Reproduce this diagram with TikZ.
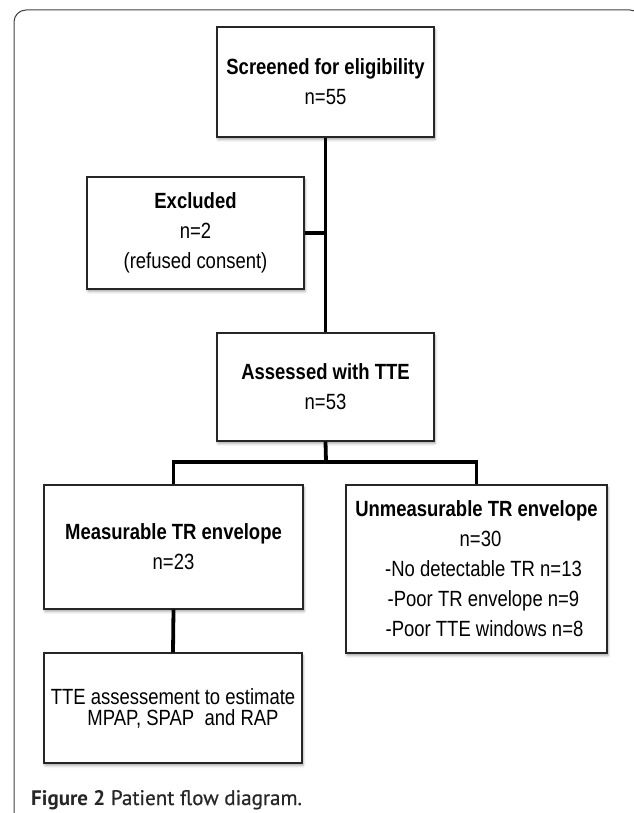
\documentclass[tikz,border=0pt]{standalone}
\usepackage{fontspec}
\setmainfont{Liberation Sans}[FakeStretch=0.84]
\newfontfamily\capfont{PT Sans}
\usetikzlibrary{shadows.blur}
\tikzset{
  box/.style={draw=black!85, line width=1.3pt, fill=white, align=center, inner sep=0pt,
    font=\fontsize{22}{30}\selectfont,
    blur shadow={shadow xshift=1pt, shadow yshift=-2.5pt, shadow blur radius=2.5pt, shadow opacity=35}},
  conn/.style={line width=3.8pt, black},
  frame/.style={draw=black!75, line width=1pt, rounded corners=12pt}
}
\begin{document}
\begin{tikzpicture}[x=1pt,y=-1pt]
\useasboundingbox (0,0) rectangle (633,813);
\draw[frame] (14,10) rectangle (642,824);

\node[box, minimum width=217pt, minimum height=110pt] (scr) at (325.5,82)
  {\textbf{Screened for eligibility}\\n=55};
\node[box, minimum width=217pt, minimum height=112pt] (exc) at (195.5,233)
  {\textbf{Excluded}\\n=2\\(refused consent)};
\node[box, minimum width=217pt, minimum height=108pt] (ass) at (325.5,387)
  {\textbf{Assessed with TTE}\\n=53};
\node[box, minimum width=259pt, minimum height=124pt] (mea) at (173.5,547)
  {\textbf{Measurable TR envelope}\\n=23};
\node[box, minimum width=261pt, minimum height=168pt] (unm) at (476.5,569)
  {\textbf{Unmeasurable TR envelope}\\\hspace*{8pt}n=30\\\hspace*{14pt}-No detectable TR n=13\\\hspace*{14pt}-Poor TR envelope n=9\\\hspace*{16pt}-Poor TTE windows n=8};
\node[box, minimum width=258pt, minimum height=110pt, font=\fontsize{22}{21}\selectfont] (tte) at (173,708)
  {TTE assessement to estimate\\\hspace*{20pt}MPAP, SPAP\ \ and RAP};

\coordinate (br) at (326,462);
\draw[conn] (scr.south) -- (ass.north);
\draw[conn] (exc.east) -- (exc.east -| scr.south);
\draw[conn] (ass.south) -- (br);
\draw[conn] (mea.north) |- (br) -| (unm.north);
\draw[conn] (mea.south) -- (tte.north);

\node[anchor=base west, inner sep=0pt, text=black!85, font=\capfont\fontsize{21}{24}\selectfont] (cap) at (31,805)
  {\textbf{Figure 2} {\addfontfeature{FakeBold=0.6}Patient flow diagram.}};
\end{tikzpicture}
\end{document}
